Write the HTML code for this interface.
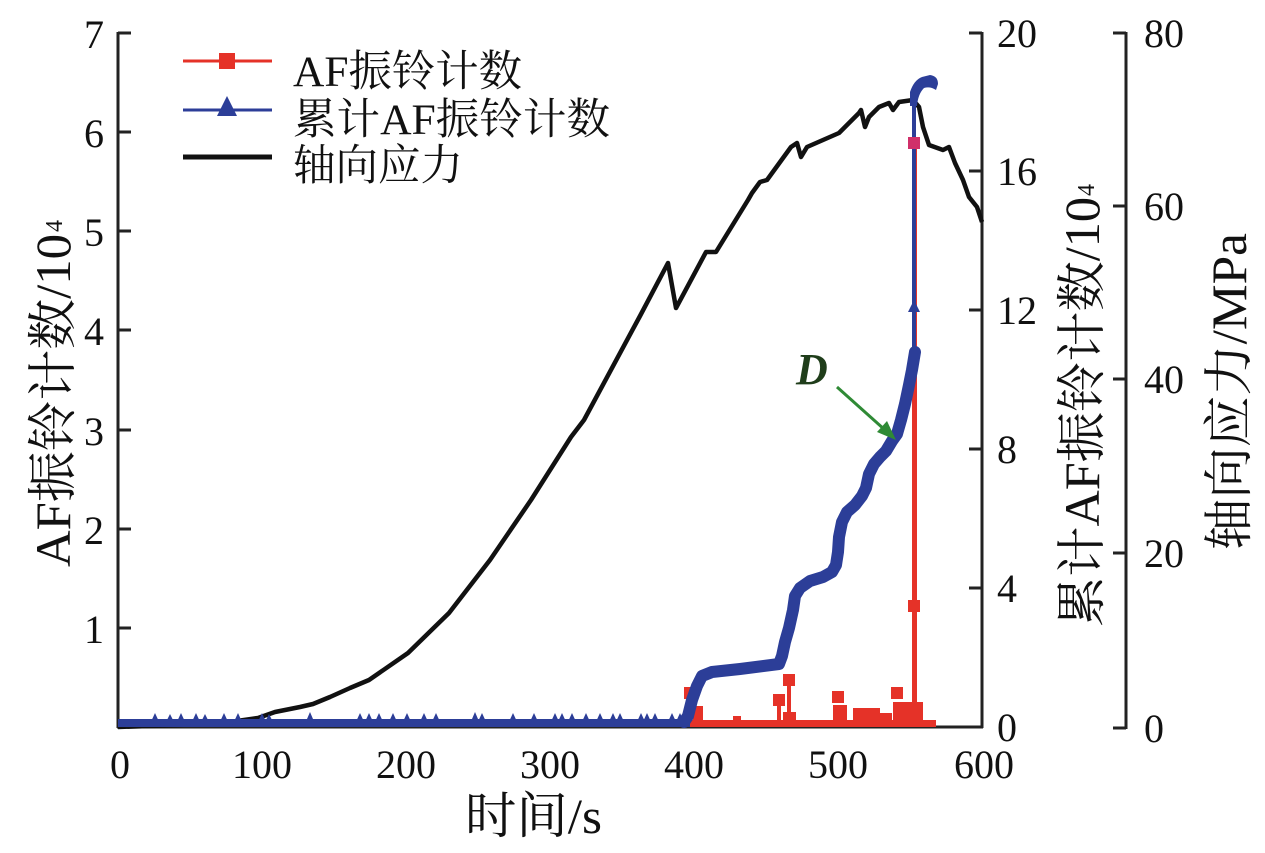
<!DOCTYPE html>
<html><head><meta charset="utf-8"><style>
html,body{margin:0;padding:0;background:#fff;}
svg{display:block;}
text{font-family:"Liberation Serif","Noto Serif CJK SC",serif;fill:#111;}
</style></head><body>
<svg width="1265" height="853" viewBox="0 0 1265 853" xmlns="http://www.w3.org/2000/svg">
<rect width="1265" height="853" fill="#fff"/>

<!-- axes -->
<g stroke="#222" stroke-width="3" fill="none">
<line x1="118" y1="32" x2="118" y2="728"/>
<line x1="117" y1="727" x2="983" y2="727"/>
<line x1="982" y1="32" x2="982" y2="728"/>
<line x1="1126" y1="32" x2="1126" y2="729"/>
<line x1="118" y1="628" x2="131" y2="628"/>
<line x1="118" y1="529" x2="131" y2="529"/>
<line x1="118" y1="430" x2="131" y2="430"/>
<line x1="118" y1="330" x2="131" y2="330"/>
<line x1="118" y1="231" x2="131" y2="231"/>
<line x1="118" y1="132" x2="131" y2="132"/>
<line x1="118" y1="33" x2="131" y2="33"/>
<line x1="969" y1="727" x2="982" y2="727"/>
<line x1="969" y1="588" x2="982" y2="588"/>
<line x1="969" y1="449" x2="982" y2="449"/>
<line x1="969" y1="310" x2="982" y2="310"/>
<line x1="969" y1="171" x2="982" y2="171"/>
<line x1="969" y1="33" x2="982" y2="33"/>
<line x1="1113" y1="728" x2="1126" y2="728"/>
<line x1="1113" y1="553" x2="1126" y2="553"/>
<line x1="1113" y1="379" x2="1126" y2="379"/>
<line x1="1113" y1="206" x2="1126" y2="206"/>
<line x1="1113" y1="33" x2="1126" y2="33"/>
</g>

<!-- tick labels -->
<g font-size="40">
<g text-anchor="end">
<text x="104" y="643">1</text>
<text x="104" y="544">2</text>
<text x="104" y="445">3</text>
<text x="104" y="345">4</text>
<text x="104" y="246">5</text>
<text x="104" y="147">6</text>
<text x="104" y="48">7</text>
</g>
<g text-anchor="middle">
<text x="120" y="778">0</text>
<text x="262" y="778">100</text>
<text x="406" y="778">200</text>
<text x="550" y="778">300</text>
<text x="694" y="778">400</text>
<text x="838" y="778">500</text>
<text x="984" y="778">600</text>
</g>
<text x="997" y="741">0</text>
<text x="997" y="602">4</text>
<text x="997" y="463">8</text>
<text x="997" y="324">12</text>
<text x="997" y="185">16</text>
<text x="997" y="47">20</text>
<text x="1144" y="742">0</text>
<text x="1144" y="567">20</text>
<text x="1144" y="393">40</text>
<text x="1144" y="220">60</text>
<text x="1144" y="47">80</text>
</g>

<!-- axis titles -->
<text x="465" y="833" font-size="50" textLength="137" lengthAdjust="spacingAndGlyphs">时间/s</text>
<text transform="translate(70,567) rotate(-90)" font-size="50" textLength="333" lengthAdjust="spacingAndGlyphs">AF振铃计数/10</text>
<text transform="translate(62,232) rotate(-90)" font-size="24">4</text>
<text transform="translate(1099,627) rotate(-90)" font-size="50" textLength="430" lengthAdjust="spacingAndGlyphs">累计AF振铃计数/10</text>
<text transform="translate(1094,196) rotate(-90)" font-size="24">4</text>
<text transform="translate(1246,550) rotate(-90)" font-size="50" textLength="317" lengthAdjust="spacingAndGlyphs">轴向应力/MPa</text>

<!-- legend -->
<line x1="183" y1="61" x2="272" y2="61" stroke="#e53228" stroke-width="3"/>
<rect x="219" y="53" width="16" height="16" fill="#e53228"/>
<line x1="183" y1="110" x2="272" y2="110" stroke="#2c3e98" stroke-width="3"/>
<polygon points="227,96 217,116 237,116" fill="#2c3e98"/>
<line x1="183" y1="157" x2="272" y2="157" stroke="#111" stroke-width="5"/>
<g font-size="43">
<text x="293" y="86" textLength="229" lengthAdjust="spacingAndGlyphs">AF振铃计数</text>
<text x="293" y="134" textLength="317" lengthAdjust="spacingAndGlyphs">累计AF振铃计数</text>
<text x="293" y="180" textLength="170" lengthAdjust="spacingAndGlyphs">轴向应力</text>
</g>

<!-- stress curve -->
<polyline fill="none" stroke="#111" stroke-width="4.5" stroke-linejoin="round" points="118,727 180,725 230,722 258,718 275,712 300,707 313,704 330,697 350,688 369,680 408,653 449,613 490,560 531,500 571,437 584,420 640,316 668,263 676,308 706,252 716,252 748,200 752,193 760,182 767,180 791,147 797,143 801,157 807,147 839,133 859,113 861,110 865,127 869,117 879,107 889,103 893,110 899,102 913,100 919,107 923,127 929,145 943,150 949,147 955,163 963,180 969,197 977,207 982,222"/>

<!-- red AF counts -->
<g fill="#e53228" stroke="none">
<rect x="480" y="725" width="210" height="2" fill="#e04050"/>
<rect x="688" y="720" width="248" height="7"/>
<rect x="693" y="706" width="10" height="18"/>
<rect x="684" y="687" width="12" height="12"/>
<rect x="733" y="716" width="8" height="6"/>
<rect x="777" y="700" width="4" height="22"/>
<rect x="773" y="694" width="12" height="12"/>
<rect x="787" y="680" width="4" height="42"/>
<rect x="783" y="674" width="12" height="12"/>
<rect x="783" y="712" width="13" height="10"/>
<rect x="833" y="705" width="14" height="17"/>
<rect x="832" y="691" width="12" height="12"/>
<rect x="853" y="708" width="27" height="14"/>
<rect x="880" y="713" width="12" height="9"/>
<rect x="893" y="702" width="30" height="20"/>
<rect x="891" y="687" width="12" height="12"/>
<rect x="912" y="140" width="5" height="587"/>
<rect x="908" y="600" width="12" height="12"/>
</g>

<!-- blue cumulative -->
<line x1="118" y1="723" x2="690" y2="723" stroke="#2c3e98" stroke-width="8"/>
<g fill="#2c3e98">
<polygon points="149,726 155,713 161,726"/>
<polygon points="164,726 170,714 176,726"/>
<polygon points="175,726 181,713 187,726"/>
<polygon points="190,726 196,713 202,726"/>
<polygon points="199,726 205,714 211,726"/>
<polygon points="218,726 224,713 230,726"/>
<polygon points="232,726 238,713 244,726"/>
<polygon points="256,726 262,713 268,726"/>
<polygon points="263,726 269,714 275,726"/>
<polygon points="304,726 310,712 316,726"/>
<polygon points="354,726 360,713 366,726"/>
<polygon points="363,726 369,713 375,726"/>
<polygon points="373,726 379,713 385,726"/>
<polygon points="387,726 393,713 399,726"/>
<polygon points="401,726 407,713 413,726"/>
<polygon points="418,726 424,713 430,726"/>
<polygon points="430,726 436,713 442,726"/>
<polygon points="469,726 475,712 481,726"/>
<polygon points="476,726 482,713 488,726"/>
<polygon points="507,726 513,713 519,726"/>
<polygon points="528,726 534,713 540,726"/>
<polygon points="549,726 555,713 561,726"/>
<polygon points="556,726 562,713 568,726"/>
<polygon points="566,726 572,713 578,726"/>
<polygon points="580,726 586,713 592,726"/>
<polygon points="594,726 600,713 606,726"/>
<polygon points="607,726 613,713 619,726"/>
<polygon points="614,726 620,713 626,726"/>
<polygon points="635,726 641,713 647,726"/>
<polygon points="641,726 647,713 653,726"/>
<polygon points="649,726 655,713 661,726"/>
<polygon points="666,726 672,713 678,726"/>
<polygon points="674,726 680,713 686,726"/>
</g>
<polyline fill="none" stroke="#2c3e98" stroke-width="12" stroke-linejoin="round" stroke-linecap="round" points="684,722 688,716 692,700 697,686 702,676 712,672 740,669 779,664 782,656 785,642 789,628 793,610 795,596 800,588 810,581 823,577 832,572 836,565 838,552 839,537 842,522 847,512 855,505 862,496 866,488 869,474 874,464 880,457 886,451 892,441 897,434 901,420 905,404 909,385 912,370 915,352"/>
<line x1="914" y1="355" x2="914" y2="100" stroke="#2c3e98" stroke-width="4"/>
<polygon points="914,300 908,312 920,312" fill="#2c3e98"/>
<rect x="908" y="137" width="12" height="12" fill="#d0306a"/>
<path d="M910,106 L910,92 Q914,80 922,77 L930,75 Q938,76 938,84 L936,90 Q930,86 924,88 Q918,94 917,106 Z" fill="#2c3e98"/>

<!-- annotation D -->
<text x="796" y="384" font-size="44" font-weight="bold" font-style="italic" style="fill:#1f3d1a">D</text>
<line x1="837" y1="387" x2="885" y2="430" stroke="#2f8a35" stroke-width="3"/>
<polygon points="896,440 877,432 887,421" fill="#2f8a35"/>
</svg>
</body></html>
